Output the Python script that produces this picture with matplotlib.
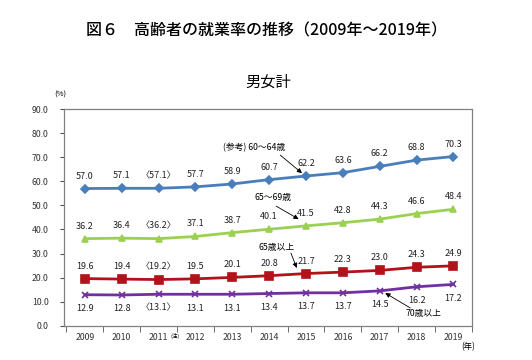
import numpy as np
import matplotlib
matplotlib.use('Agg')
import matplotlib.pyplot as plt
import matplotlib.transforms as mtransforms

plt.rcParams['font.family'] = ['Noto Sans CJK JP', 'DejaVu Sans']

# datos
years = ['2009', '2010', '2011', '2012', '2013', '2014', '2015', '2016', '2017', '2018', '2019']
age_60_64 = [57.0, 57.1, 57.1, 57.7, 58.9, 60.7, 62.2, 63.6, 66.2, 68.8, 70.3]
age_65_69 = [36.2, 36.4, 36.2, 37.1, 38.7, 40.1, 41.5, 42.8, 44.3, 46.6, 48.4]
age_65_over = [19.6, 19.4, 19.2, 19.5, 20.1, 20.8, 21.7, 22.3, 23.0, 24.3, 24.9]
age_70_over = [12.9, 12.8, 13.1, 13.1, 13.1, 13.4, 13.7, 13.7, 14.5, 16.2, 17.2]
y_ticks = [0, 10, 20, 30, 40, 50, 60, 70, 80, 90]

fig = plt.figure(figsize=(5.32, 3.6), dpi=100)
ax = fig.add_axes([0.120, 0.095, 0.767, 0.602])

x = np.arange(len(years))

series = [
    (age_60_64, '#4A7EBB', 'D', 4.5, 'above'),
    (age_65_69, '#9BD052', '^', 5, 'above'),
    (age_65_over, '#B3121B', 's', 5.5, 'above'),
    (age_70_over, '#7030A0', 'x', 5, 'below'),
]

for vals, col, mk, ms, pos in series:
    ax.plot(x, vals, color=col, lw=2, marker=mk, ms=ms, mec=col, mfc=col, mew=1.2)
    for i, v in enumerate(vals):
        txt = f'{v:.1f}'
        if i == 2:
            txt = '〈' + txt + '〉'
        dy = 9 if pos == 'above' else -10
        ax.annotate(txt, (i, v), xytext=(0, dy), textcoords='offset points',
                    ha='center', va='center', fontsize=6.5, color='#222222')

# anotaciones con flecha
arr = dict(arrowstyle='-|>', color='black', lw=0.6, mutation_scale=7, shrinkA=0, shrinkB=0)
ax.text(4.6, 74.2, '(参考) 60～64歳', fontsize=6.3, ha='center', va='center')
ax.annotate('', xy=(5.89, 63.4), xytext=(5.3, 70.9), arrowprops=arr)
ax.text(5.1, 53.4, '65～69歳', fontsize=6.3, ha='center', va='center')
ax.annotate('', xy=(5.8, 44.3), xytext=(5.19, 49.7), arrowprops=arr)
ax.text(5.19, 32.7, '65歳以上', fontsize=6.3, ha='center', va='center')
ax.annotate('', xy=(5.75, 24.0), xytext=(5.59, 30.2), arrowprops=arr)
ax.text(9.2, 5.3, '70歳以上', fontsize=6.3, ha='center', va='center')
ax.annotate('', xy=(8.15, 13.6), xytext=(8.83, 7.4), arrowprops=arr)

ax.set_xlim(-0.57, 10.5)
ax.set_ylim(0, 90)
ax.set_yticks(y_ticks)
ax.set_yticklabels([f'{t:.1f}' for t in y_ticks], fontsize=6.3, color='#333333')
ax.set_xticks(x)
ax.set_xticklabels(years, fontsize=6.3, color='#333333')
ax.set_xticks(np.arange(-0.5, 10.6, 1), minor=True)
ax.tick_params(axis='x', which='major', length=0, pad=5)
ax.tick_params(axis='x', which='minor', length=4, direction='out', color='#555555')
ax.tick_params(axis='y', length=3, direction='out', color='#555555', pad=8)
for s in ax.spines.values():
    s.set_color('#808080')
    s.set_linewidth(0.9)

trans = mtransforms.blended_transform_factory(ax.transData, ax.transAxes)
ax.text(2.45, -0.052, '(注)', transform=trans, fontsize=4, ha='center', va='center')

fig.text(0.5, 0.915, '図６　高齢者の就業率の推移（2009年～2019年）', ha='center', va='center',
         fontsize=11.5, fontweight='medium')
fig.text(0.505, 0.772, '男女計', ha='center', va='center', fontsize=11)
fig.text(0.113, 0.736, '(%)', ha='center', va='center', fontsize=5.5)
fig.text(0.88, 0.036, '(年)', ha='center', va='center', fontsize=6)

plt.savefig('out.png', dpi=100)
